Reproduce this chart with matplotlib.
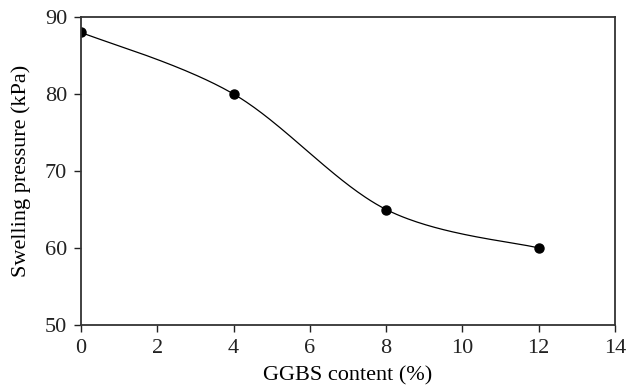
import numpy as np
import matplotlib
matplotlib.use("Agg")
import matplotlib.pyplot as plt

# Data
ggbs = [0, 4, 8, 12]
pressure = [88, 80, 65, 60]

x_ticks = [0, 2, 4, 6, 8, 10, 12, 14]
y_ticks = [50, 60, 70, 80, 90]


# Excel-style smoothed line: cubic Bezier segments with tangents (P2-P0)/6
def smooth_line(xs, ys, n=60):
    pts = np.column_stack([xs, ys]).astype(float)
    out = []
    for i in range(len(pts) - 1):
        p0 = pts[i - 1] if i > 0 else pts[i]
        p1 = pts[i]
        p2 = pts[i + 1]
        p3 = pts[i + 2] if i + 2 < len(pts) else pts[i + 1]
        c1 = p1 + (p2 - p0) / 6
        c2 = p2 - (p3 - p1) / 6
        t = np.linspace(0, 1, n)[:, None]
        seg = ((1 - t) ** 3) * p1 + 3 * ((1 - t) ** 2) * t * c1 + 3 * (1 - t) * t ** 2 * c2 + t ** 3 * p2
        out.append(seg)
    curve = np.vstack(out)
    return curve[:, 0], curve[:, 1]


plt.rcParams["font.family"] = ["Liberation Serif", "DejaVu Serif"]

fig = plt.figure(figsize=(6.26, 3.91), dpi=100)
ax = fig.add_axes([0.1294, 0.1688, 0.8530, 0.7877])

sx, sy = smooth_line(ggbs, pressure)
ax.plot(sx, sy, color="black", linewidth=0.9)
ax.plot(ggbs, pressure, "o", color="black", markersize=6.5)

ax.set_xlim(0, 14)
ax.set_ylim(50, 90)
ax.set_xticks(x_ticks)
ax.set_yticks(y_ticks)
ax.tick_params(direction="out", length=5, width=1, labelsize=16, colors="#222222", pad=5)
for s in ax.spines.values():
    s.set_linewidth(1.3)
    s.set_color("#333333")

ax.set_xlabel("GGBS content (%)", fontsize=16, labelpad=6)
ax.set_ylabel("Swelling pressure (kPa)", fontsize=16, labelpad=10)

fig.savefig("out.png", dpi=100)
